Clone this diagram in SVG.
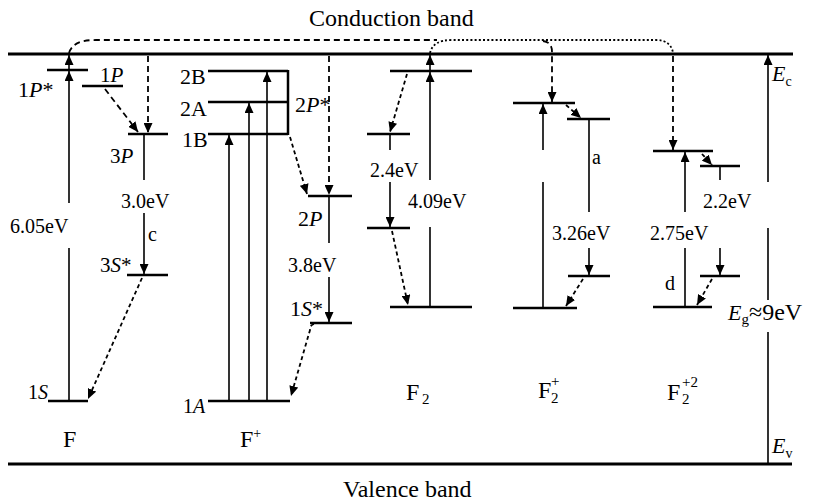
<svg xmlns="http://www.w3.org/2000/svg" width="813" height="503" viewBox="0 0 813 503">
<style>
text{font-family:"Liberation Serif","Times New Roman",serif;fill:#000}
.lv{stroke:#000;stroke-width:2.5;fill:none}
.band{stroke:#000;stroke-width:3.2}
.v{stroke:#000;stroke-width:1.6;fill:none}
.ar{marker-end:url(#ah)}
.ds{stroke:#000;stroke-width:1.8;stroke-dasharray:6,4;fill:none}
.dt{stroke:#000;stroke-width:1.8;stroke-dasharray:2,2.2;fill:none}
.sd{stroke:#000;stroke-width:1.8;stroke-dasharray:4,3;fill:none}
.e{font-size:20px}
.l{font-size:21px}
.b{font-size:22px}
.n{font-size:24px}
.i{font-style:italic}
</style>
<defs>
<marker id="ah" markerUnits="userSpaceOnUse" markerWidth="10" markerHeight="9" refX="10" refY="4.5" orient="auto">
<path d="M0,0 L10,4.5 L0,9 z" style="fill:#000;stroke:none"/>
</marker>
</defs>

<g id="bands">
<line class="band" x1="8" y1="54" x2="793" y2="54"/>
<line class="band" x1="8" y1="464" x2="792" y2="464"/>
<text class="n" x="309" y="26">Conduction band</text>
<text class="n" x="343" y="497">Valence band</text>
<text class="b" x="772" y="81"><tspan class="i">E</tspan><tspan font-size="14" dy="5">c</tspan></text>
<text class="b" x="772" y="453"><tspan class="i">E</tspan><tspan font-size="14" dy="5">v</tspan></text>
<text class="b" x="728" y="320"><tspan class="i">E</tspan><tspan font-size="15" dy="4">g</tspan><tspan font-size="24" dy="-4">≈9eV</tspan></text>
</g>

<g id="F">
<line class="lv" x1="47" y1="70" x2="88" y2="70"/>
<line class="lv" x1="82" y1="86" x2="123" y2="86"/>
<line class="lv" x1="128" y1="134" x2="168" y2="134"/>
<line class="lv" x1="127" y1="275" x2="168" y2="275"/>
<line class="lv" x1="48" y1="401" x2="88" y2="401"/>
<text class="b" x="18" y="97">1<tspan class="i">P</tspan>*</text>
<text class="l" x="100" y="82">1<tspan class="i">P</tspan></text>
<text class="l" x="110" y="163">3<tspan class="i">P</tspan></text>
<text class="l" x="100" y="272">3<tspan class="i">S</tspan>*</text>
<text class="e" x="28" y="399">1<tspan class="i">S</tspan></text>
<text class="e" x="10" y="233">6.05eV</text>
<text class="e" x="121" y="208">3.0eV</text>
<text class="e" x="148" y="241">c</text>
<text class="n" x="63" y="447">F</text>
</g>

<g id="Fplus">
<line class="lv" x1="208" y1="71" x2="288" y2="71"/>
<line class="lv" x1="208" y1="102" x2="288" y2="102"/>
<line class="lv" x1="208" y1="134" x2="288" y2="134"/>
<line class="lv" x1="288" y1="70" x2="288" y2="135"/>
<line class="lv" x1="208" y1="401" x2="290" y2="401"/>
<line class="lv" x1="308" y1="196" x2="352" y2="196"/>
<line class="lv" x1="310" y1="323" x2="352" y2="323"/>
<text class="b" x="180" y="84">2B</text>
<text class="b" x="180" y="116">2A</text>
<text class="b" x="182" y="147">1B</text>
<text class="e" x="183" y="413">1<tspan class="i">A</tspan></text>
<text class="b" x="295" y="112">2<tspan class="i">P</tspan>*</text>
<text class="b" x="298" y="226">2<tspan class="i">P</tspan></text>
<text class="b" x="290" y="316">1<tspan class="i">S</tspan>*</text>
<text class="e" x="288" y="272">3.8eV</text>
<text class="n" x="240" y="447">F<tspan font-size="14" dy="-9">+</tspan></text>
</g>

<g id="F2">
<line class="lv" x1="390" y1="71" x2="472" y2="71"/>
<line class="lv" x1="367" y1="134" x2="410" y2="134"/>
<line class="lv" x1="367" y1="228" x2="410" y2="228"/>
<line class="lv" x1="390" y1="307" x2="472" y2="307"/>
<text class="e" x="370" y="177">2.4eV</text>
<text class="e" x="408" y="208">4.09eV</text>
<text class="n" x="406" y="400">F</text>
<text font-size="15" x="422" y="404">2</text>
</g>

<g id="F2plus">
<line class="lv" x1="513" y1="103" x2="575" y2="103"/>
<line class="lv" x1="567" y1="119" x2="610" y2="119"/>
<line class="lv" x1="568" y1="276" x2="610" y2="276"/>
<line class="lv" x1="513" y1="308" x2="577" y2="308"/>
<text class="e" x="592" y="164">a</text>
<text class="e" x="552" y="240">3.26eV</text>
<text class="n" x="538" y="398">F</text>
<text font-size="15" x="551" y="403">2</text>
<text font-size="15" x="551" y="386">+</text>
</g>

<g id="F2plus2">
<line class="lv" x1="653" y1="151" x2="713" y2="151"/>
<line class="lv" x1="700" y1="166" x2="740" y2="166"/>
<line class="lv" x1="700" y1="276" x2="740" y2="276"/>
<line class="lv" x1="653" y1="307" x2="712" y2="307"/>
<text class="e" x="703" y="208">2.2eV</text>
<text class="e" x="650" y="240">2.75eV</text>
<text class="e" x="665" y="290">d</text>
<text class="n" x="667" y="400">F</text>
<text font-size="15" x="682" y="404">2</text>
<text font-size="15" x="682" y="387">+2</text>
</g>

<g id="connectors">
<!-- F -->
<line class="v" x1="69" y1="401" x2="69" y2="248"/>
<line class="v ar" x1="69" y1="203" x2="69" y2="71"/>
<line class="v ar" x1="69" y1="71" x2="69" y2="55"/>
<path class="ds" d="M69,53 C72,44 80,40 96,40 L437,40"/>
<line class="ds ar" x1="148" y1="56" x2="148" y2="133"/>
<line class="ds ar" x1="105" y1="89" x2="138" y2="132"/>
<line class="v" x1="144" y1="134" x2="144" y2="180"/>
<line class="v ar" x1="144" y1="213" x2="144" y2="274"/>
<line class="sd ar" x1="142" y1="278" x2="88" y2="399"/>
<!-- F+ -->
<line class="v ar" x1="229" y1="401" x2="229" y2="135"/>
<line class="v ar" x1="249" y1="401" x2="249" y2="103"/>
<line class="v ar" x1="267" y1="401" x2="267" y2="72"/>
<line class="sd ar" x1="290" y1="137" x2="307" y2="194"/>
<line class="ds ar" x1="329" y1="56" x2="329" y2="195"/>
<line class="v" x1="329" y1="196" x2="329" y2="243"/>
<line class="v ar" x1="329" y1="277" x2="329" y2="322"/>
<path class="sd ar" d="M314,324 Q310,325 310,330 L291,396"/>
<!-- F2 -->
<line class="v" x1="430" y1="307" x2="430" y2="227"/>
<line class="v ar" x1="430" y1="180" x2="430" y2="72"/>
<line class="v ar" x1="430" y1="72" x2="430" y2="55"/>
<line class="sd ar" x1="407" y1="74" x2="390" y2="132"/>
<line class="v" x1="390" y1="134" x2="390" y2="150"/>
<line class="v ar" x1="390" y1="182" x2="390" y2="227"/>
<line class="sd ar" x1="392" y1="231" x2="408" y2="305"/>
<path class="dt" d="M430,53 C432,45 438,40 452,40 L656,40 C666,40 672,45 673,53"/>
<!-- F2+ -->
<path class="ds ar" d="M543,41 Q552,42 552,52 L552,102"/>
<line class="v" x1="543" y1="308" x2="543" y2="182"/>
<line class="v ar" x1="543" y1="150" x2="543" y2="104"/>
<line class="sd ar" x1="566" y1="105" x2="581" y2="118"/>
<line class="v" x1="589" y1="119" x2="589" y2="212"/>
<line class="v ar" x1="589" y1="248" x2="589" y2="275"/>
<line class="sd ar" x1="583" y1="279" x2="566" y2="306"/>
<!-- F2+2 -->
<line class="ds ar" x1="673" y1="56" x2="673" y2="150"/>
<line class="v" x1="685" y1="307" x2="685" y2="248"/>
<line class="v ar" x1="685" y1="212" x2="685" y2="152"/>
<line class="sd ar" x1="702" y1="154" x2="712" y2="165"/>
<line class="v" x1="720" y1="166" x2="720" y2="180"/>
<line class="v ar" x1="720" y1="248" x2="720" y2="275"/>
<line class="sd ar" x1="712" y1="279" x2="697" y2="305"/>
<!-- Eg -->
<line class="v" x1="768" y1="464" x2="768" y2="332"/>
<line class="v" x1="768" y1="300" x2="768" y2="228"/>
<line class="v ar" x1="768" y1="182" x2="768" y2="55"/>
</g>
</svg>
